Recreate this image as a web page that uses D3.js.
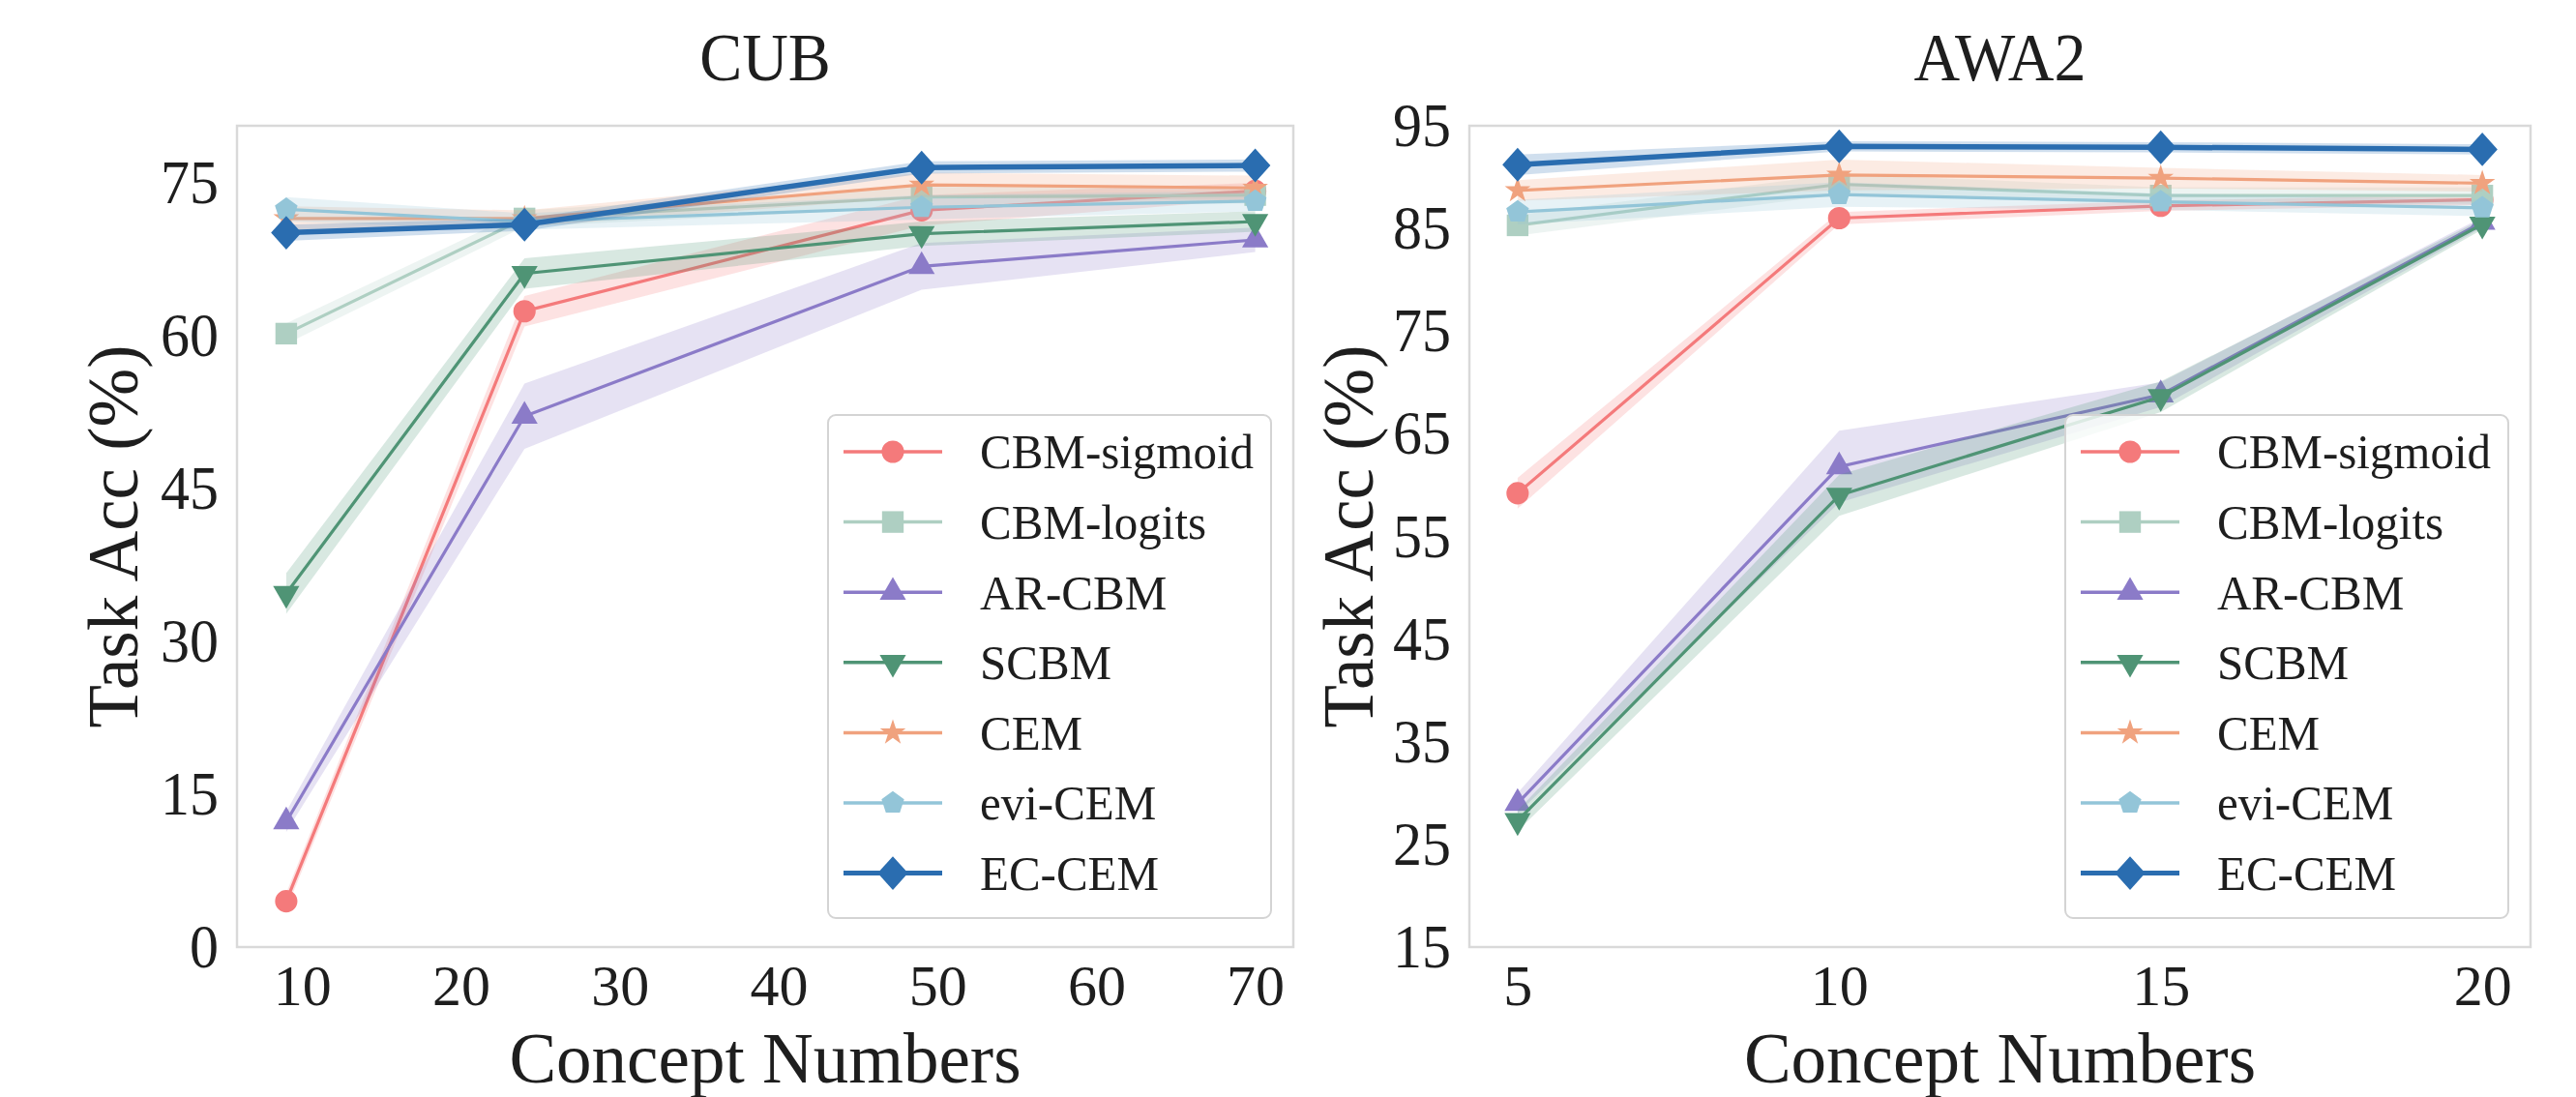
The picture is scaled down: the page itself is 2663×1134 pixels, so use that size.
<!DOCTYPE html>
<html>
<head>
<meta charset="utf-8">
<script src="https://cdnjs.cloudflare.com/ajax/libs/d3/7.8.5/d3.min.js"></script>
<style>
    body { margin: 0; background: #ffffff; }
    svg text { font-family: "Liberation Serif", "Times New Roman", serif; fill: #1e1e1e; }
</style>
</head>
<body>
<div id="chart"></div>
<script>

// methods, in drawing order (last one ends up on top)
const methods = ["CBM-sigmoid", "CBM-logits", "AR-CBM", "SCBM", "CEM", "evi-CEM", "EC-CEM"];
const colors = ["#f47a7b", "#aecfc2", "#8b7bc8", "#4f9475", "#f0a27e", "#93c5d8", "#2a6db0"];

// CUB panel
const cubConcepts = [9, 24, 49, 70];
const cubTicksX = [10, 20, 30, 40, 50, 60, 70];
const cubTicksY = [0, 15, 30, 45, 60, 75];
const cubMean = [
    [4.5, 62.4, 72.3, 74.2],
    [60.2, 71.5, 73.6, 73.8],
    [12.3, 52.1, 66.8, 69.4],
    [34.7, 66.1, 70.0, 71.2],
    [71.5, 71.5, 74.8, 74.5],
    [72.4, 71.2, 72.6, 73.2],
    [70.1, 70.9, 76.5, 76.7]
];
const cubStd = [
    [0.8, 1.5, 1.5, 0.8],
    [1.0, 0.8, 1.0, 0.8],
    [1.0, 3.2, 2.3, 1.2],
    [2.0, 1.5, 1.2, 1.0],
    [1.2, 0.8, 1.2, 1.2],
    [1.2, 0.8, 1.2, 1.0],
    [0.8, 0.6, 0.6, 0.6]
];

// AWA2 panel
const awaConcepts = [5, 10, 15, 20];
const awaTicksX = [5, 10, 15, 20];
const awaTicksY = [15, 25, 35, 45, 55, 65, 75, 85, 95];
const awaMean = [
    [59.2, 86.0, 87.2, 87.8],
    [85.3, 89.3, 88.2, 88.2],
    [29.0, 61.8, 68.8, 85.6],
    [27.3, 59.0, 68.6, 85.4],
    [88.7, 90.2, 89.9, 89.4],
    [86.6, 88.3, 87.6, 87.0],
    [91.2, 93.0, 92.9, 92.7]
];
const awaStd = [
    [1.5, 0.6, 0.5, 0.5],
    [1.0, 1.0, 0.8, 0.8],
    [1.0, 3.5, 1.2, 0.5],
    [1.0, 2.0, 1.5, 0.5],
    [1.0, 1.5, 1.0, 0.8],
    [1.2, 1.2, 0.8, 0.8],
    [1.0, 0.5, 0.5, 0.5]
];

// marker shapes that d3 does not ship
const symbolPentagon = {
    draw(ctx, size) {
        let r = Math.sqrt(size / 2.378);
        for (let i = 0; i < 5; i++) {
            let a = -Math.PI / 2 + i * 2 * Math.PI / 5;
            if (i === 0) ctx.moveTo(r * Math.cos(a), r * Math.sin(a));
            else ctx.lineTo(r * Math.cos(a), r * Math.sin(a));
        }
        ctx.closePath();
    }
};
const symbolRhombus = {
    draw(ctx, size) {
        let r = Math.sqrt(size / 2);
        ctx.moveTo(0, -r);
        ctx.lineTo(r * 0.9, 0);
        ctx.lineTo(0, r);
        ctx.lineTo(-r * 0.9, 0);
        ctx.closePath();
    }
};
const symbolTriangleDown = {
    draw(ctx, size) {
        let s = Math.sqrt(size / (Math.sqrt(3) / 4));
        let h = s * Math.sqrt(3) / 2;
        ctx.moveTo(0, h * 2 / 3);
        ctx.lineTo(s / 2, -h / 3);
        ctx.lineTo(-s / 2, -h / 3);
        ctx.closePath();
    }
};
const markerTypes = [d3.symbolCircle, d3.symbolSquare, d3.symbolTriangle, symbolTriangleDown, d3.symbolStar, symbolPentagon, symbolRhombus];
const markerSizes = [420, 500, 320, 320, 220, 360, 610];

// the reference type is slightly taller than it is wide
const stretch = 1.07;

const svg = d3.select("#chart").append("svg")
    .attr("width", 2663)
    .attr("height", 1134);

function drawPanel(cfg) {
    let g = svg.append("g");

    let x = d3.scaleLinear().domain(cfg.xDomain).range([cfg.left, cfg.right]);
    let y = d3.scaleLinear().domain(cfg.yDomain).range([cfg.bottom, cfg.top]);

    // frame
    g.append("rect")
        .attr("x", cfg.left).attr("y", cfg.top)
        .attr("width", cfg.right - cfg.left).attr("height", cfg.bottom - cfg.top)
        .attr("fill", "none")
        .attr("stroke", "#d9d9d9")
        .attr("stroke-width", 2.5);

    // axes
    let xAxis = g.append("g")
        .attr("transform", `translate(0, ${cfg.bottom})`)
        .call(d3.axisBottom(x).tickValues(cfg.ticksX).tickSize(0).tickPadding(17));
    let yAxis = g.append("g")
        .attr("transform", `translate(${cfg.left}, 0)`)
        .call(d3.axisLeft(y).tickValues(cfg.ticksY).tickSize(0).tickPadding(19));
    [xAxis, yAxis].forEach(a => {
        a.select(".domain").remove();
        a.selectAll("text")
            .attr("font-family", null)
            .style("font-size", "60px");
    });
    yAxis.selectAll("text").attr("transform", `scale(1, ${stretch})`);

    // titles
    let cx = (cfg.left + cfg.right) / 2;
    g.append("text")
        .attr("transform", `translate(${cx}, 83) scale(1, ${stretch})`)
        .attr("text-anchor", "middle")
        .style("font-size", "66px")
        .text(cfg.title);
    g.append("text")
        .attr("x", cx).attr("y", 1119)
        .attr("text-anchor", "middle")
        .style("font-size", "73px")
        .text("Concept Numbers");
    g.append("text")
        .attr("transform", `translate(${cfg.yLabelX}, ${(cfg.top + cfg.bottom) / 2}) rotate(-90)`)
        .attr("text-anchor", "middle")
        .style("font-size", "73px")
        .text("Task Acc (%)");

    // series: band, line, markers
    let area = d3.area()
        .x(d => x(d.x))
        .y0(d => y(d.m - d.s))
        .y1(d => y(d.m + d.s));
    let line = d3.line()
        .x(d => x(d.x))
        .y(d => y(d.m));

    methods.forEach((name, i) => {
        let pts = cfg.concepts.map((c, j) => ({x: c, m: cfg.mean[i][j], s: cfg.std[i][j]}));
        let isMain = name === "EC-CEM";

        g.append("path")
            .datum(pts)
            .attr("d", area)
            .attr("fill", colors[i])
            .attr("fill-opacity", 0.22);

        g.append("path")
            .datum(pts)
            .attr("d", line)
            .attr("fill", "none")
            .attr("stroke", colors[i])
            .attr("stroke-width", isMain ? 5.5 : 3.2);

        g.selectAll(null)
            .data(pts)
            .enter().append("path")
            .attr("d", d3.symbol().type(markerTypes[i]).size(markerSizes[i]))
            .attr("transform", d => `translate(${x(d.x)}, ${y(d.m)})`)
            .attr("fill", colors[i]);
    });

    // legend
    let lw = 458, lh = 520;
    let lx = cfg.right - 23 - lw;
    let ly = cfg.bottom - 30 - lh;
    let legend = g.append("g").attr("transform", `translate(${lx}, ${ly})`);
    legend.append("rect")
        .attr("width", lw).attr("height", lh)
        .attr("rx", 8)
        .attr("fill", "#ffffff")
        .attr("fill-opacity", 0.8)
        .attr("stroke", "#d4d4d4")
        .attr("stroke-width", 2);

    methods.forEach((name, i) => {
        let row = legend.append("g").attr("transform", `translate(0, ${38 + i * 72.6})`);
        row.append("line")
            .attr("x1", 16).attr("x2", 118)
            .attr("stroke", colors[i])
            .attr("stroke-width", name === "EC-CEM" ? 5 : 3.5);
        row.append("path")
            .attr("d", d3.symbol().type(markerTypes[i]).size(markerSizes[i]))
            .attr("transform", "translate(67, 0)")
            .attr("fill", colors[i]);
        row.append("text")
            .attr("transform", `translate(157, 0) scale(1, 1.04)`)
            .attr("dy", "0.34em")
            .style("font-size", "49px")
            .text(name);
    });
}

drawPanel({
    title: "CUB",
    left: 245, right: 1337, top: 130, bottom: 979,
    xDomain: [5.9, 72.4], yDomain: [0, 80.6],
    ticksX: cubTicksX, ticksY: cubTicksY,
    concepts: cubConcepts, mean: cubMean, std: cubStd,
    yLabelX: 142
});

drawPanel({
    title: "AWA2",
    left: 1519, right: 2616, top: 130, bottom: 979,
    xDomain: [4.25, 20.75], yDomain: [15, 95],
    ticksX: awaTicksX, ticksY: awaTicksY,
    concepts: awaConcepts, mean: awaMean, std: awaStd,
    yLabelX: 1419
});

</script>
</body>
</html>
